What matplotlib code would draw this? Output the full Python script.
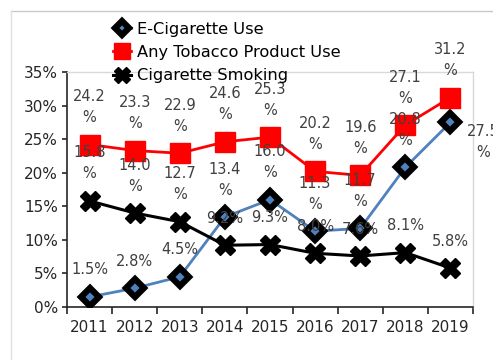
import numpy as np
import matplotlib
matplotlib.use('Agg')
import matplotlib.pyplot as plt
from matplotlib.lines import Line2D

#%% data
years = ['2011', '2012', '2013', '2014', '2015', '2016', '2017', '2018', '2019']
ecig = [1.5, 2.8, 4.5, 13.4, 16.0, 11.3, 11.7, 20.8, 27.5]
tobacco = [24.2, 23.3, 22.9, 24.6, 25.3, 20.2, 19.6, 27.1, 31.2]
cigarette = [15.8, 14.0, 12.7, 9.2, 9.3, 8.0, 7.6, 8.1, 5.8]
y_ticks = [0, 5, 10, 15, 20, 25, 30, 35]

#%% helpers
def fmt_label(v):
    # long values wrap onto two lines like the original chart
    s = '{:.1f}'.format(v)
    if v >= 10:
        return s + '\n%'
    return s + '%'

def add_labels(ax, xs, vals, right_last=False):
    for i, (x, v) in enumerate(zip(xs, vals)):
        if right_last and i == len(vals) - 1:
            ax.annotate(fmt_label(v), (x, v), xytext=(12, -14),
                        textcoords='offset points', ha='left', va='center',
                        multialignment='center', linespacing=1.5,
                        fontsize=10.5, color='#404040', zorder=10,
                        annotation_clip=False)
        else:
            ax.annotate(fmt_label(v), (x, v), xytext=(0, 14),
                        textcoords='offset points', ha='center', va='bottom',
                        multialignment='center', linespacing=1.5,
                        fontsize=10.5, color='#404040', zorder=10,
                        annotation_clip=False)

#%% figure
fig = plt.figure(figsize=(4.93, 3.6), dpi=100)
ax = fig.add_axes([67/493, 53/360, 406/493, 235/360])

x = np.arange(len(years))

ax.plot(x, ecig, color='#4f81bd', lw=2, marker='D', ms=9.5,
        mfc='#4f81bd', mec='black', mew=4.5, label='E-Cigarette Use', zorder=3)
ax.plot(x, tobacco, color='red', lw=2, marker='s', ms=15,
        mfc='red', mec='red', label='Any Tobacco Product Use', zorder=4)
ax.plot(x, cigarette, color='black', lw=2.2, marker='X', ms=14,
        mfc='black', mec='black', label='Cigarette Smoking', zorder=5)

add_labels(ax, x, ecig, right_last=True)
add_labels(ax, x, tobacco)
add_labels(ax, x, cigarette)

ax.set_xlim(-0.5, len(years) - 0.5)
ax.set_ylim(0, 35)
ax.set_yticks(y_ticks)
ax.set_yticklabels(['{}%'.format(t) for t in y_ticks])
ax.set_xticks(x)
ax.set_xticklabels(years)
ax.set_xticks(np.arange(len(years) + 1) - 0.5, minor=True)
ax.tick_params(axis='x', which='major', length=0, pad=9, labelsize=11, labelcolor='#262626')
ax.tick_params(axis='x', which='minor', length=5, width=1.2, color='#262626')
ax.tick_params(axis='y', length=3.6, width=1.2, pad=3, labelsize=11,
               color='#262626', labelcolor='#262626')

for s in ['left', 'bottom']:
    ax.spines[s].set_color('#262626')
    ax.spines[s].set_linewidth(1.2)
for s in ['top', 'right']:
    ax.spines[s].set_color('#d9d9d9')
    ax.spines[s].set_linewidth(1)

# outer chart border (cropped by the image edge)
fig.add_artist(Line2D([10.5/493, 1.0], [1 - 11/360, 1 - 11/360],
                      transform=fig.transFigure, color='#c8c8c8', lw=1))
fig.add_artist(Line2D([10.5/493, 10.5/493], [0, 1 - 11/360],
                      transform=fig.transFigure, color='#e0e0e0', lw=1))

fig.legend(loc='upper left', bbox_to_anchor=(113/493, 1 - 22/360),
           frameon=False, fontsize=11.7, handlelength=1.1, handletextpad=0.4,
           labelspacing=0.5, borderpad=0, borderaxespad=0, markerscale=0.8)

plt.savefig('out.png', dpi=100)
